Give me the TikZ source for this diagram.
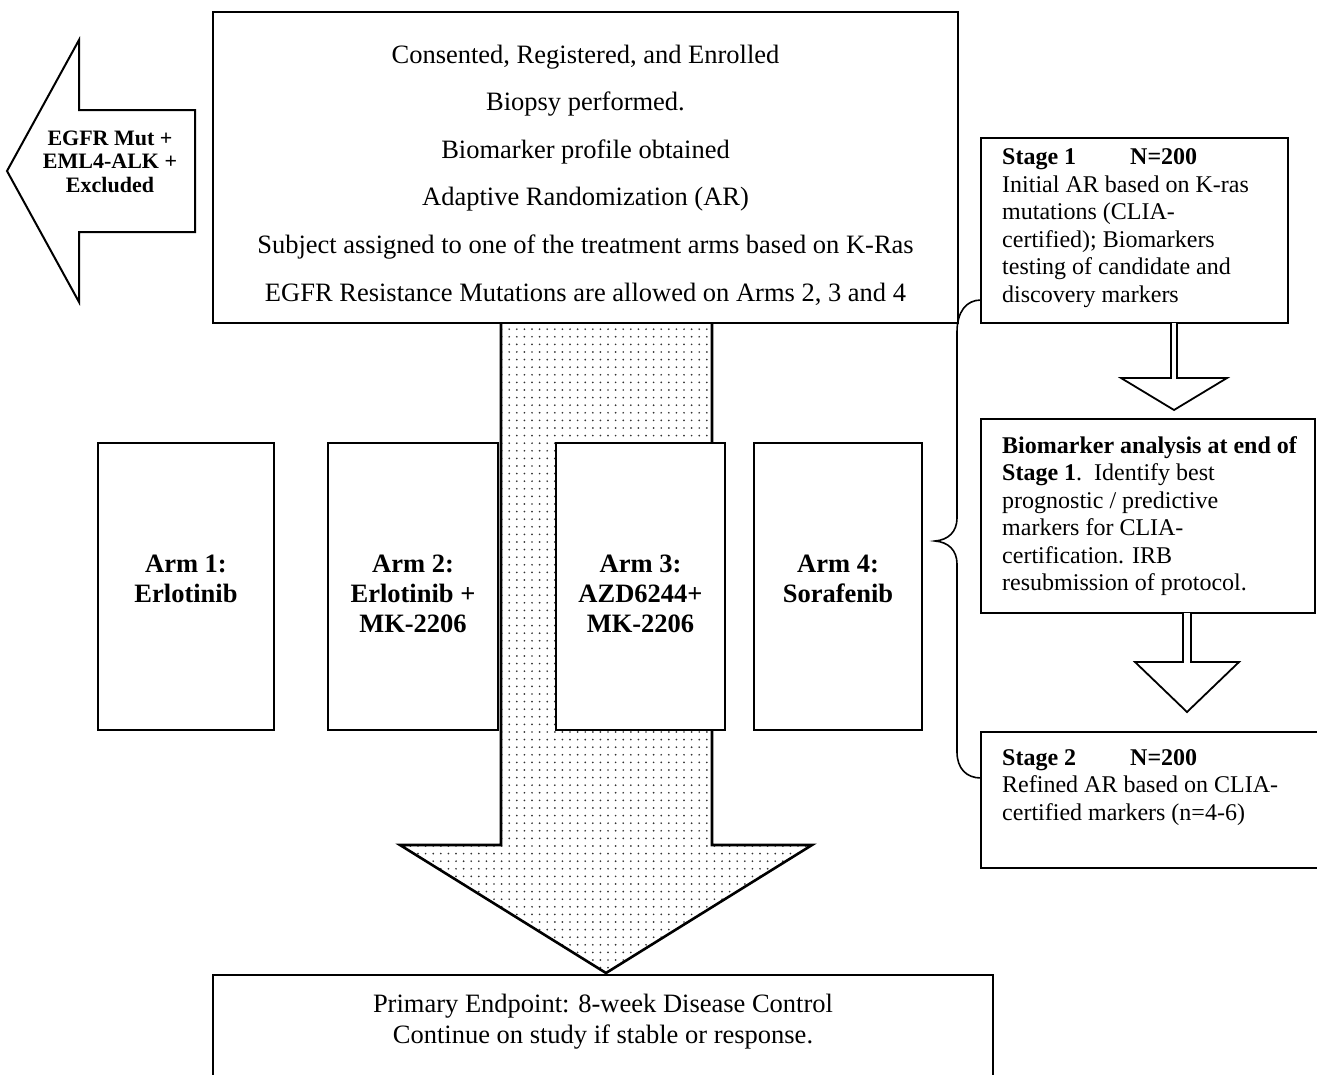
\documentclass[tikz,border=0pt]{standalone}
\usepackage{fontspec}
\setmainfont{Liberation Serif}
\usetikzlibrary{patterns.meta}
\begin{document}
\begin{tikzpicture}[x=1pt,y=-1pt,
  box/.style={draw, line width=2.6pt, fill=white, inner sep=0pt, outer sep=0pt, anchor=north west},
  blockarrow/.style={draw, line width=2.6pt, line join=miter},
  smallarrow/.style={draw, line width=1.8pt, fill=white, line join=miter},
  bracel/.style={draw, line width=1.6pt},
  toptxt/.style={font=\fontsize{26.5}{47.6}\selectfont, align=center, anchor=base, inner sep=0pt},
  armtxt/.style={font=\bfseries\fontsize{26.5}{30}\selectfont, align=center, anchor=base, inner sep=0pt},
  sidetxt/.style={font=\fontsize{24}{27.5}\selectfont, align=left, anchor=base west, inner sep=0pt},
  excltxt/.style={font=\bfseries\fontsize{22}{23.5}\selectfont, align=center, anchor=base, inner sep=0pt},
  endtxt/.style={font=\fontsize{26.5}{31}\selectfont, align=center, anchor=base, inner sep=0pt}]
\useasboundingbox (0,0) rectangle (1317,1074);
\clip (0,0) rectangle (1317,1074);

% big dotted arrow
\path[blockarrow, pattern={Dots[distance=7.6pt,radius=0.95pt]}, pattern color=black!80]
  (501,318) -- (501,845) -- (400,845) -- (606,973) -- (812,845) -- (712,845) -- (712,318) -- cycle;

% top box (base anchor = last line baseline)
\node[box, minimum width=745pt, minimum height=311pt] (top) at (213,12) {};
\node[toptxt] (toptext) at (585.5,301) {Consented, Registered, and Enrolled\\Biopsy performed.\\Biomarker profile obtained\\Adaptive Randomization (AR)\\Subject assigned to one of the treatment arms based on K-Ras\\EGFR Resistance Mutations are allowed on Arms 2, 3 and 4};

% left arrow
\path[draw, line width=2pt, fill=white, line join=miter]
  (195,110) -- (79,110) -- (79,40) -- (7,171) -- (79,302) -- (79,232) -- (195,232) -- cycle;
\node[excltxt] (excl) at (110,192) {EGFR Mut +\\EML4-ALK +\\Excluded};

% arms
\node[box, minimum width=176pt, minimum height=287pt] (arm1) at (98,443) {};
\node[box, minimum width=170pt, minimum height=287pt] (arm2) at (328,443) {};
\node[box, minimum width=169pt, minimum height=287pt] (arm3) at (556,443) {};
\node[box, minimum width=168pt, minimum height=287pt] (arm4) at (754,443) {};
\node[armtxt] (arm1t) at (186,602) {Arm 1:\\Erlotinib};
\node[armtxt] (arm2t) at (413,632) {Arm 2:\\Erlotinib +\\MK-2206};
\node[armtxt] (arm3t) at (640.5,632) {Arm 3:\\AZD6244+\\MK-2206};
\node[armtxt] (arm4t) at (838,602) {Arm 4:\\Sorafenib};

% right side boxes
\node[box, minimum width=307pt, minimum height=185pt] (s1) at (981,138) {};
\node[sidetxt] (s1t) at (1002,302) {\makebox[128pt][l]{\textbf{Stage 1}}\textbf{N=200}\\Initial AR based on K-ras\\mutations (CLIA-\\certified); Biomarkers\\testing of candidate and\\discovery markers};

\path[smallarrow] (1171,323) -- (1171,378) -- (1121,378) -- (1174,410) -- (1227,378) -- (1177,378) -- (1177,323);

\node[box, minimum width=334pt, minimum height=194pt] (bio) at (981,419) {};
\node[sidetxt] (biot) at (1002,590.5) {\textbf{Biomarker analysis at end of}\\\textbf{Stage 1}.\ \ Identify best\\prognostic / predictive\\markers for CLIA-\\certification. IRB\\resubmission of protocol.};

\path[smallarrow] (1183,613) -- (1183,662) -- (1135,662) -- (1187,712) -- (1239,662) -- (1191,662) -- (1191,613);

\node[box, minimum width=349pt, minimum height=136pt] (s2) at (981,732) {};
\node[sidetxt] (s2t) at (1002,820) {\makebox[128pt][l]{\textbf{Stage 2}}\textbf{N=200}\\Refined AR based on CLIA-\\certified markers (n=4-6)};

% brace
\path[bracel] (981,300) .. controls (966,300) and (957,312) .. (957,332)
  -- (957,518) .. controls (957,532) and (948,540) .. (935,541)
  .. controls (948,542) and (957,550) .. (957,564)
  -- (957,752) .. controls (957,768) and (966,778) .. (981,778);

% endpoint box
\node[box, minimum width=780pt, minimum height=130pt] (endp) at (213,975) {};
\node[endtxt] (endt) at (603,1043) {Primary Endpoint: 8-week Disease Control\\Continue on study if stable or response.};
\end{tikzpicture}
\end{document}
